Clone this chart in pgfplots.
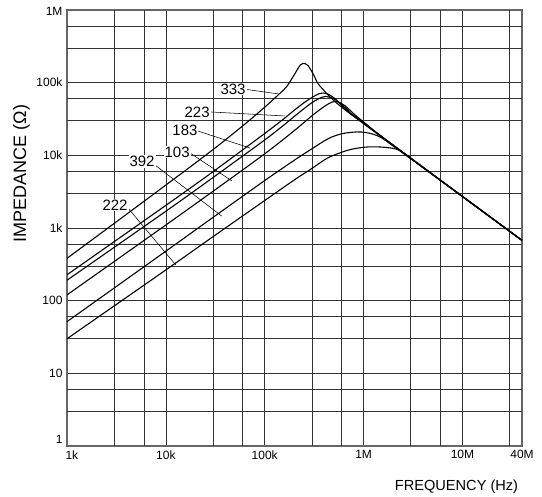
\documentclass[border=0pt]{standalone}
\usepackage{fontspec}
\setmainfont{Liberation Sans}
\usepackage{pgfplots}
\pgfplotsset{compat=1.18}
\begin{document}
\begin{tikzpicture}
\begin{axis}[
  scale only axis, width=455pt, height=436pt,
  xmode=log, ymode=log,
  xmin=1e3, xmax=4e7, ymin=1, ymax=1e6,
  xtick={1e3,1e4,1e5,1e6,1e7,4e7},
  xticklabels={\makebox[0pt][l]{\hspace{-1.5pt}1k},10k,100k,1M,10M,40M},
  ytick={1,10,100,1e3,1e4,1e5,1e6},
  yticklabels={\raisebox{7pt}[\height][\depth]{1},10,100,1k,10k,100k,\raisebox{-1.5pt}[\height][\depth]{1M}},
  extra x ticks={3e3,6e3,3e4,6e4,3e5,6e5,3e6,6e6,3e7},
  extra x tick labels={},
  extra y ticks={3,6,30,60,300,600,3e3,6e3,3e4,6e4,3e5,6e5},
  extra y tick labels={},
  extra x tick style={grid=major},
  extra y tick style={grid=major},
  minor xtick={}, minor ytick={},
  grid=major,
  major grid style={black!80, line width=0.65pt},
  tick style={draw=none},
  axis line style={black!60, line width=1.2pt},
  tick label style={font=\fontsize{12}{14}\selectfont},
  xticklabel style={yshift=-1pt},
  yticklabel style={xshift=-1pt},
  xlabel={FREQUENCY (Hz)},
  xlabel style={font=\fontsize{14.6}{16}\selectfont, at={(rel axis cs:0.856,0)}, anchor=center, yshift=-40.5pt},
  clip=true,
]
% 333
\addplot[black, line width=1.1pt, smooth, tension=0.5] coordinates {
(1e3,382) (1e4,3900) (3e4,12000) (6e4,25500) (1e5,46000) (1.42e5,71000) (1.66e5,87500) (1.93e5,120000) (2.17e5,157000) (2.3e5,176000) (2.44e5,184000) (2.58e5,182000) (2.74e5,172000) (3.07e5,134000) (3.45e5,97500) (3.88e5,81000) (4.54e5,64000) (6e5,46000) (1e6,27300) (4e7,675)};
% 223
\addplot[black, line width=1.1pt, smooth, tension=0.5] coordinates {
(1e3,227) (1e4,2050) (3e4,5950) (1e5,20000) (1.5e5,30500) (2e5,42000) (2.5e5,53000) (3e5,62500) (3.6e5,71000) (4.2e5,71000) (5e5,62000) (6e5,49000) (7e5,40000) (1e6,27500) (4e7,675)};
% 183
\addplot[black, line width=1.1pt, smooth, tension=0.5] coordinates {
(1e3,191) (1e4,1700) (3e4,4950) (1e5,16300) (1.5e5,25000) (2e5,34500) (2.5e5,44000) (3e5,53000) (3.5e5,60000) (4.1e5,64500) (5e5,60000) (6e5,50000) (7e5,41500) (1e6,27800) (4e7,675)};
% 103
\addplot[black, line width=1.1pt, smooth, tension=0.5] coordinates {
(1e3,120) (1e4,1100) (3e4,3200) (1e5,10500) (2e5,22000) (3e5,35000) (4e5,47000) (4.8e5,54000) (5.5e5,54500) (6.5e5,48000) (8e5,37000) (1e6,28800) (2e6,13700) (4e7,675)};
% 392
\addplot[black, line width=1.1pt, smooth, tension=0.5] coordinates {
(1e3,51.4) (1e4,480) (3e4,1400) (1e5,4500) (2e5,8600) (3e5,12300) (4.4e5,17000) (6e5,19800) (8.5e5,21000) (1.05e6,20600) (1.25e6,19500) (1.5e6,17600) (2e6,13400) (3e6,9000) (4e7,675)};
% 222
\addplot[black, line width=1.1pt, smooth, tension=0.5] coordinates {
(1e3,29.9) (1e4,265) (3e4,760) (1e5,2390) (2e5,4600) (3e5,6600) (4.4e5,9300) (7e5,11800) (1e6,12900) (1.25e6,13100) (1.5e6,13000) (1.8e6,12700) (2.2e6,12000) (3e6,9000) (4e7,675)};
% leaders
\draw[black, line width=0.55pt] (axis cs:6.62e4,8.05e4) -- (axis cs:1.39e5,6.98e4);
\draw[black, line width=0.55pt] (axis cs:2.86e4,3.95e4) -- (axis cs:1.6e5,3.48e4);
\draw[black, line width=0.55pt] (axis cs:2.11e4,2.16e4) -- (axis cs:7.1e4,1.26e4);
\draw[black, line width=0.55pt] (axis cs:1.75e4,1.08e4) -- (axis cs:4.67e4,4430);
\draw[black, line width=0.55pt] (axis cs:7.76e3,7360) -- (axis cs:3.67e4,1460);
\draw[black, line width=0.55pt] (axis cs:4.14e3,1880) -- (axis cs:1.26e4,310);
% labels
\begin{scope}[every node/.style={fill=white, inner sep=1pt, font=\fontsize{15}{17}\selectfont}]
\node at (axis cs:4.78e4,8.18e4) {333};
\node at (axis cs:2.07e4,3.95e4) {223};
\node at (axis cs:1.56e4,2.2e4) {183};
\node at (axis cs:1.3e4,1.11e4) {103};
\node at (axis cs:5.74e3,8220) {392};
\node at (axis cs:3.06e3,2070) {222};
\end{scope}
\end{axis}
\node[rotate=90, font=\fontsize{18}{20}\selectfont, anchor=center] at (-45.5pt,272.5pt) {IMPEDANCE (Ω)};
\pgfresetboundingbox
\useasboundingbox (-67pt,-51pt) rectangle (475pt,446pt);
\end{tikzpicture}
\end{document}
